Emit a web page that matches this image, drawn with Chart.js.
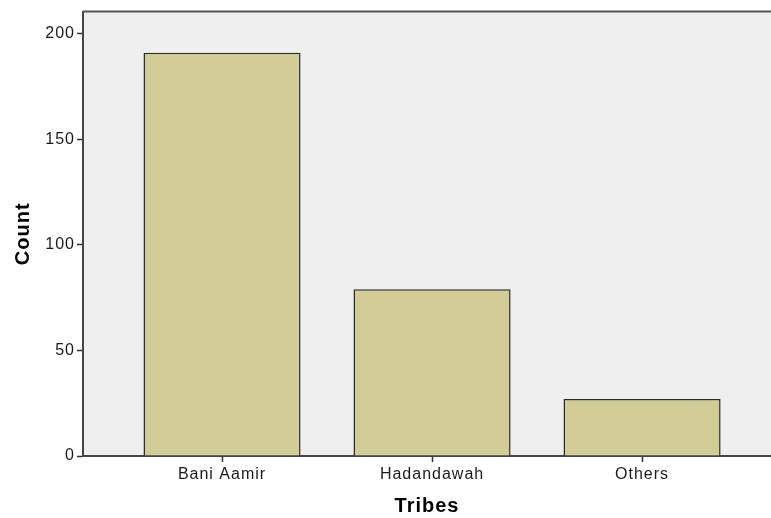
<!DOCTYPE html>
<html>
<head>
<meta charset="utf-8">
<title>Tribes</title>
<script src="https://cdn.jsdelivr.net/npm/chart.js@4/dist/chart.umd.min.js"></script>
<style>
  body { margin: 0; background: #fff; }
  #wrap { width: 771px; height: 518px; }
</style>
</head>
<body>
<div id="wrap"><canvas id="myChart" width="771" height="518"></canvas></div>
<script>
var categories = ["Bani Aamir", "Hadandawah", "Others"];
var counts = [191, 79, 27];
var yTicks = [0, 50, 100, 150, 200];

var plotBg = {
  id: 'plotBg',
  beforeUpdate: function (chart) { chart.ctx.letterSpacing = '1px'; },
  beforeDraw: function (chart) {
    var ctx = chart.ctx, a = chart.chartArea;
    ctx.letterSpacing = '1px';
    ctx.save();
    ctx.fillStyle = '#efefef';
    ctx.fillRect(a.left, a.top, a.right - a.left, a.bottom - a.top);
    ctx.restore();
  },
  afterDraw: function (chart) {
    var ctx = chart.ctx, a = chart.chartArea;
    ctx.save();
    ctx.strokeStyle = '#555';
    ctx.lineWidth = 2;
    ctx.beginPath();
    ctx.moveTo(a.left, a.top);
    ctx.lineTo(a.right, a.top);
    ctx.stroke();
    ctx.restore();
  }
};

var chart = new Chart(document.getElementById("myChart"), {
  type: 'bar',
  data: {
    datasets: [{
      data: categories.map(function (c, i) { return { x: i, y: counts[i] }; }),
      backgroundColor: '#d2cd96',
      borderColor: '#2a2a2a',
      borderWidth: 1.5,
      categoryPercentage: 1,
      barPercentage: 0.748
    }]
  },
  options: {
    responsive: false,
    animation: false,
    layout: { padding: { top: 10, left: 0, right: 0, bottom: 0 } },
    plugins: { legend: { display: false }, tooltip: { enabled: false } },
    scales: {
      x: {
        type: 'linear',
        min: -0.662,
        max: 2.614,
        bounds: 'data',
        offset: false,
        afterBuildTicks: function (scale) {
          scale.ticks = categories.map(function (c, i) { return { value: i }; });
        },
        afterFit: function (scale) { scale.height = 62; },
        ticks: {
          autoSkip: false,
          maxRotation: 0,
          padding: 3,
          color: '#1a1a1a',
          font: { family: 'Liberation Sans', size: 16 },
          callback: function (v) { return categories[v]; }
        },
        grid: { display: true, offset: false, drawOnChartArea: false, drawTicks: true, tickLength: 6, tickColor: '#333', tickWidth: 1.5 },
        border: { display: true, color: '#444', width: 2 },
        title: {
          display: true,
          text: 'Tribes',
          color: '#000',
          padding: { top: 0, bottom: 0 },
          font: { family: 'Liberation Sans', size: 20, weight: 'bold' }
        }
      },
      y: {
        min: 0,
        max: 210.5,
        afterBuildTicks: function (scale) {
          scale.ticks = yTicks.map(function (v) { return { value: v }; });
        },
        afterFit: function (scale) { scale.width = 83; },
        ticks: {
          padding: 2,
          color: '#1a1a1a',
          font: { family: 'Liberation Sans', size: 16 }
        },
        grid: { display: true, drawOnChartArea: false, drawTicks: true, tickLength: 6, tickColor: '#333', tickWidth: 1.5 },
        border: { display: true, color: '#444', width: 2 },
        title: {
          display: true,
          text: 'Count',
          color: '#000',
          padding: { top: 11, bottom: 0 },
          font: { family: 'Liberation Sans', size: 20, weight: 'bold' }
        }
      }
    }
  },
  plugins: [plotBg]
});
</script>
</body>
</html>
